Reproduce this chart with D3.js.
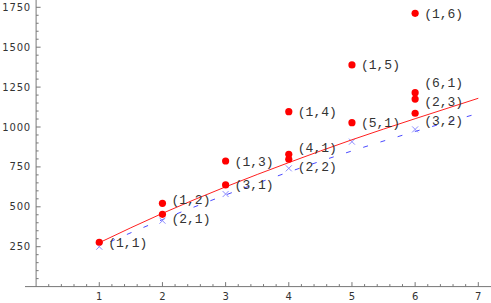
<!DOCTYPE html>
<html>
<head>
<meta charset="utf-8">
<script src="https://cdn.jsdelivr.net/npm/d3@7"></script>
<style>
  body { margin: 0; background: #fff; }
  svg { display: block; }
</style>
</head>
<body>
<svg width="491" height="303"></svg>
<script>
// data
var labels = ["(1,1)", "(1,2)", "(2,1)", "(1,3)", "(3,1)", "(4,1)", "(2,2)", "(1,4)",
              "(5,1)", "(1,5)", "(6,1)", "(2,3)", "(3,2)", "(1,6)"];
var pointX = [1, 2, 2, 3, 3, 4, 4, 4, 5, 5, 6, 6, 6, 6];
var pointY = [278, 522, 453, 787, 637, 829, 798, 1096, 1027, 1389, 1215, 1175, 1086, 1712];

// blue crosses
var crossX = [1, 2, 3, 4, 5, 6];
var crossY = [250, 413, 580, 741, 908, 985];

// the two fitted curves
var fitX = [1, 2, 3, 4, 5, 6, 7];
var redFit = [275, 459, 625, 777, 920, 1052, 1180];
var blueFit = [252, 420, 574, 718, 850, 972, 1085];

var xTicks = [1, 2, 3, 4, 5, 6, 7];
var yTicks = [250, 500, 750, 1000, 1250, 1500, 1750];

var svg = d3.select("svg");

var x = d3.scaleLinear().domain([0, 7]).range([36.1, 478.3]);
var y = d3.scaleLinear().domain([0, 1750]).range([286.6, 7.3]);

var axisColor = "#777";

// axes lines
svg.append("line")
    .attr("x1", 25).attr("x2", 491)
    .attr("y1", y(0)).attr("y2", y(0))
    .style("stroke", axisColor);
svg.append("line")
    .attr("x1", x(0)).attr("x2", x(0))
    .attr("y1", 0).attr("y2", y(0))
    .style("stroke", axisColor);

// x ticks (minor every 0.2)
var xMinor = d3.range(1, 36).map(function (i) { return i / 5; });
svg.append("g").selectAll("line")
    .data(xMinor)
    .enter().append("line")
    .attr("x1", function (d) { return x(d); })
    .attr("x2", function (d) { return x(d); })
    .attr("y1", y(0))
    .attr("y2", function (d, i) { return y(0) - ((i + 1) % 5 == 0 ? 4.5 : 2.5); })
    .style("stroke", axisColor);

svg.append("g").selectAll("text")
    .data(xTicks)
    .enter().append("text")
    .attr("x", function (d) { return x(d); })
    .attr("y", 300)
    .attr("text-anchor", "middle")
    .style("font-family", "DejaVu Sans")
    .style("font-size", "10px")
    .style("fill", "#333")
    .text(function (d) { return d; });

// y ticks (minor every 50)
var yMinor = d3.range(1, 36).map(function (i) { return i * 50; });
svg.append("g").selectAll("line")
    .data(yMinor)
    .enter().append("line")
    .attr("x1", x(0))
    .attr("x2", function (d) { return x(0) + (d % 250 == 0 ? 4.5 : 2.5); })
    .attr("y1", function (d) { return y(d); })
    .attr("y2", function (d) { return y(d); })
    .style("stroke", axisColor);

svg.append("g").selectAll("text")
    .data(yTicks)
    .enter().append("text")
    .attr("x", 31)
    .attr("y", function (d) { return y(d); })
    .attr("dy", "0.35em")
    .attr("text-anchor", "end")
    .style("font-family", "DejaVu Sans")
    .style("font-size", "10px")
    .style("letter-spacing", "0.8px")
    .style("fill", "#333")
    .text(function (d) { return d; });

// blue dashed fit
var line = d3.line()
    .x(function (d, i) { return x(fitX[i]); })
    .y(function (d) { return y(d); })
    .curve(d3.curveMonotoneX);

svg.append("path")
    .attr("d", line(blueFit))
    .style("fill", "none")
    .style("stroke", "#4a4aff")
    .style("stroke-width", 1)
    .style("stroke-dasharray", "5,13")
    .style("stroke-dashoffset", -12);

// blue crosses
svg.append("g").selectAll("path")
    .data(crossY)
    .enter().append("path")
    .attr("d", function (d, i) {
        var cx = x(crossX[i]), cy = y(d), s = 3;
        return "M" + (cx - s) + "," + (cy - s) + "L" + (cx + s) + "," + (cy + s) +
               "M" + (cx - s) + "," + (cy + s) + "L" + (cx + s) + "," + (cy - s);
    })
    .style("stroke", "#8c8cff")
    .style("fill", "none");

// red fit
svg.append("path")
    .attr("d", line(redFit))
    .style("fill", "none")
    .style("stroke", "#ff2020")
    .style("stroke-width", 1);

// red points
svg.append("g").selectAll("circle")
    .data(pointY)
    .enter().append("circle")
    .attr("cx", function (d, i) { return x(pointX[i]); })
    .attr("cy", function (d) { return y(d); })
    .attr("r", 3.6)
    .style("fill", "#ff0000");

// spread labels that sit at the same x so they don't collide
var labelY = pointY.map(function (d) { return y(d); });
var gap = 19;
d3.groups(d3.range(labels.length), function (i) { return pointX[i]; }).forEach(function (g) {
    var idx = g[1].slice().sort(function (a, b) { return labelY[a] - labelY[b]; });
    for (var it = 0; it < 60; it++) {
        for (var k = 1; k < idx.length; k++) {
            var a = idx[k - 1], b = idx[k];
            var diff = labelY[b] - labelY[a];
            if (diff < gap) {
                var push = (gap - diff) / 2;
                labelY[a] -= push;
                labelY[b] += push;
            }
        }
    }
});

svg.append("g").selectAll("text")
    .data(labels)
    .enter().append("text")
    .attr("x", function (d, i) { return x(pointX[i]) + 9; })
    .attr("y", function (d, i) { return labelY[i]; })
    .attr("dy", "0.35em")
    .style("font-family", "Liberation Mono")
    .style("font-size", "13px")
    .style("fill", "#333")
    .text(function (d) { return d; });
</script>
</body>
</html>
